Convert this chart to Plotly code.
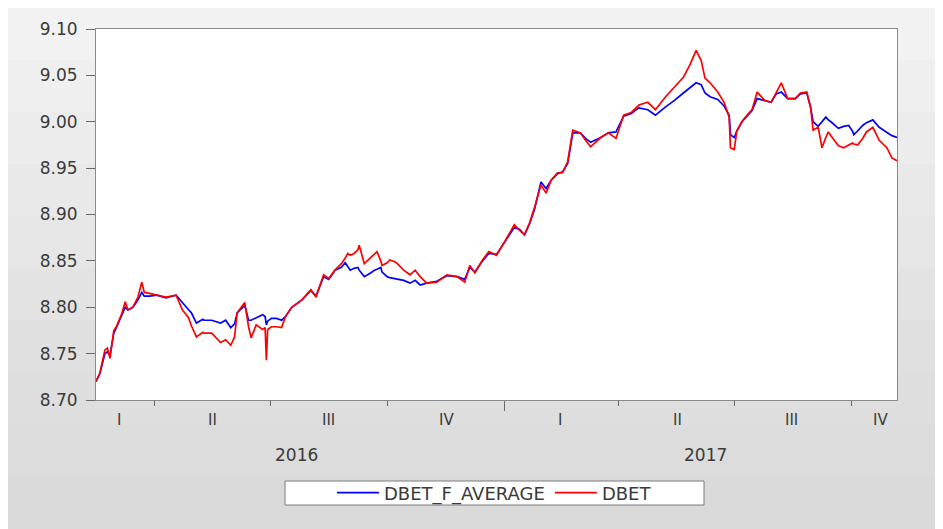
import plotly.graph_objects as go

# ---------------- data ----------------
dates = [
    "2016-02-15", "2016-02-18", "2016-02-22", "2016-02-24", "2016-02-26", "2016-02-29",
    "2016-03-02", "2016-03-06", "2016-03-09", "2016-03-11", "2016-03-15", "2016-03-19",
    "2016-03-22", "2016-03-24", "2016-03-28", "2016-04-03", "2016-04-10", "2016-04-18",
    "2016-04-23", "2016-04-26", "2016-04-28", "2016-04-30", "2016-05-04", "2016-05-09",
    "2016-05-10", "2016-05-16", "2016-05-23", "2016-05-27", "2016-05-31", "2016-06-03",
    "2016-06-05", "2016-06-11", "2016-06-14", "2016-06-16", "2016-06-20", "2016-06-25",
    "2016-06-27", "2016-06-28", "2016-06-29", "2016-07-02", "2016-07-06", "2016-07-10",
    "2016-07-13", "2016-07-18", "2016-07-26", "2016-08-02", "2016-08-06", "2016-08-12",
    "2016-08-16", "2016-08-21", "2016-08-26", "2016-08-29", "2016-08-31", "2016-09-02",
    "2016-09-05", "2016-09-08", "2016-09-09", "2016-09-13", "2016-09-18", "2016-09-21",
    "2016-09-23", "2016-09-26", "2016-09-27", "2016-10-01", "2016-10-03", "2016-10-07",
    "2016-10-09", "2016-10-14", "2016-10-19", "2016-10-23", "2016-10-27", "2016-11-01",
    "2016-11-09", "2016-11-17", "2016-11-25", "2016-12-01", "2016-12-05", "2016-12-09",
    "2016-12-15", "2016-12-20", "2016-12-26", "2017-01-02", "2017-01-09", "2017-01-13",
    "2017-01-17", "2017-01-21", "2017-01-25", "2017-01-30", "2017-02-03", "2017-02-07",
    "2017-02-12", "2017-02-16", "2017-02-20", "2017-02-24", "2017-03-02", "2017-03-06",
    "2017-03-10", "2017-03-18", "2017-03-24", "2017-03-30", "2017-04-05", "2017-04-11",
    "2017-04-17", "2017-04-24", "2017-04-30", "2017-05-08", "2017-05-15", "2017-05-22",
    "2017-05-27", "2017-06-01", "2017-06-05", "2017-06-08", "2017-06-12", "2017-06-18",
    "2017-06-23", "2017-06-27", "2017-06-28", "2017-07-01", "2017-07-03", "2017-07-07",
    "2017-07-11", "2017-07-15", "2017-07-19", "2017-07-25", "2017-07-30", "2017-08-03",
    "2017-08-07", "2017-08-12", "2017-08-18", "2017-08-22", "2017-08-27", "2017-08-30",
    "2017-09-01", "2017-09-05", "2017-09-08", "2017-09-11", "2017-09-13", "2017-09-15",
    "2017-09-20", "2017-09-21", "2017-09-25", "2017-09-29", "2017-10-02", "2017-10-03",
    "2017-10-06", "2017-10-10", "2017-10-13", "2017-10-18", "2017-10-23", "2017-10-29",
    "2017-11-02", "2017-11-06",
]

dbet = [
    8.720, 8.729, 8.754, 8.756, 8.745, 8.775,
    8.779, 8.792, 8.806, 8.797, 8.800, 8.811,
    8.827, 8.816, 8.815, 8.813, 8.811, 8.813,
    8.797, 8.792, 8.788, 8.780, 8.768, 8.773,
    8.772, 8.772, 8.762, 8.765, 8.759, 8.768,
    8.794, 8.805, 8.779, 8.767, 8.781, 8.776,
    8.778, 8.743, 8.776, 8.779, 8.779, 8.778,
    8.790, 8.800, 8.808, 8.819, 8.811, 8.835,
    8.831, 8.840, 8.847, 8.853, 8.858, 8.856,
    8.858, 8.862, 8.867, 8.847, 8.853, 8.857,
    8.860, 8.850, 8.845, 8.848, 8.851, 8.849,
    8.847, 8.840, 8.835, 8.840, 8.833, 8.826,
    8.827, 8.835, 8.833, 8.827, 8.845, 8.837,
    8.851, 8.860, 8.856, 8.872, 8.889, 8.883,
    8.878, 8.891, 8.908, 8.932, 8.923, 8.937,
    8.945, 8.945, 8.957, 8.991, 8.988, 8.980,
    8.973, 8.983, 8.988, 8.982, 9.007, 9.010,
    9.018, 9.021, 9.013, 9.027, 9.037, 9.048,
    9.061, 9.077, 9.066, 9.047, 9.042, 9.032,
    9.021, 9.005, 8.972, 8.970, 8.990, 9.000,
    9.007, 9.013, 9.032, 9.023, 9.021, 9.031,
    9.042, 9.025, 9.025, 9.031, 9.032, 9.016,
    8.991, 8.994, 8.972, 8.983, 8.989, 8.985,
    8.975, 8.974, 8.972, 8.975, 8.977, 8.976,
    8.975, 8.982, 8.989, 8.994, 8.980, 8.972,
    8.961, 8.958,
]

dbet_f_average = [
    8.720, 8.728, 8.750, 8.752, 8.748, 8.772,
    8.778, 8.790, 8.800, 8.797, 8.800, 8.808,
    8.816, 8.812, 8.812, 8.813, 8.810, 8.813,
    8.805, 8.799, 8.797, 8.794, 8.783, 8.787,
    8.786, 8.786, 8.783, 8.786, 8.778, 8.782,
    8.794, 8.802, 8.786, 8.786, 8.789, 8.792,
    8.790, 8.781, 8.785, 8.788, 8.788, 8.786,
    8.790, 8.800, 8.808, 8.818, 8.812, 8.833,
    8.830, 8.840, 8.843, 8.848, 8.844, 8.840,
    8.842, 8.843, 8.840, 8.833, 8.837, 8.840,
    8.841, 8.843, 8.838, 8.833, 8.832, 8.831,
    8.830, 8.829, 8.826, 8.829, 8.824, 8.826,
    8.828, 8.834, 8.833, 8.830, 8.843, 8.838,
    8.850, 8.858, 8.857, 8.871, 8.886, 8.884,
    8.878, 8.890, 8.906, 8.935, 8.928, 8.937,
    8.944, 8.946, 8.955, 8.988, 8.988, 8.982,
    8.978, 8.983, 8.988, 8.989, 9.006, 9.009,
    9.015, 9.013, 9.007, 9.016, 9.023, 9.031,
    9.037, 9.042, 9.040, 9.031, 9.027, 9.024,
    9.017, 9.007, 8.986, 8.983, 8.990, 9.000,
    9.006, 9.012, 9.025, 9.023, 9.021, 9.030,
    9.032, 9.025, 9.025, 9.030, 9.031, 9.016,
    9.000, 8.995, 9.000, 9.005, 9.002, 9.000,
    8.994, 8.993, 8.995, 8.996, 8.990, 8.986,
    8.990, 8.996, 8.999, 9.002, 8.994, 8.989,
    8.985, 8.983,
]

y_ticks = [8.70, 8.75, 8.80, 8.85, 8.90, 8.95, 9.00, 9.05, 9.10]
quarter_bounds = ["2016-04-01", "2016-07-01", "2016-10-01",
                  "2017-04-01", "2017-07-01", "2017-10-01"]
year_bounds = ["2017-01-01"]
quarter_labels = ["I", "II", "III", "IV", "I", "II", "III", "IV"]
quarter_label_dates = ["2016-03-04", "2016-05-17", "2016-08-16", "2016-11-17",
                       "2017-02-14", "2017-05-17", "2017-08-15", "2017-10-24"]
year_labels = ["2016", "2017"]
year_label_dates = ["2016-07-22", "2017-06-08"]

# ---------------- layout geometry (page pixels; page body has an 8px margin) ----------------
OFF = 8
PAGE_W, PAGE_H = 943, 529
W, H = PAGE_W - OFF, PAGE_H - OFF
PLOT_L, PLOT_R, PLOT_T, PLOT_B = 96, 897, 29, 400          # plot frame in page pixels
ML, MT = PLOT_L - OFF, PLOT_T - OFF
MR, MB = W - (PLOT_R - OFF), H - (PLOT_B - OFF)
PW, PH = PLOT_R - PLOT_L, PLOT_B - PLOT_T
LEG_L, LEG_R, LEG_T, LEG_B = 285, 704, 481, 505             # legend frame in page pixels


def px_x(px):
    return (px - PLOT_L) / PW


def px_y(py):
    return (PLOT_B - py) / PH


FONT = "DejaVu Sans"
TXT = "#3a3a3a"

fig = go.Figure()
fig.add_trace(go.Scatter(x=dates, y=dbet_f_average, mode="lines", name="DBET_F_AVERAGE",
                         line=dict(color="#0000ff", width=1.7)))
fig.add_trace(go.Scatter(x=dates, y=dbet, mode="lines", name="DBET",
                         line=dict(color="#ff0000", width=1.7)))

# background panel with a soft vertical gradient
shapes = []
bands = ["#f2f2f2", "#efefef", "#ececec", "#e9e9e9", "#e6e6e6",
         "#e3e3e3", "#e0e0e0", "#dedede", "#dcdcdc", "#dadada"]
top_px, bot_px = OFF, PAGE_H
step = (bot_px - top_px) / len(bands)
for i, c in enumerate(bands):
    shapes.append(dict(type="rect", xref="paper", yref="paper", layer="below",
                       x0=px_x(OFF), x1=px_x(936),
                       y0=px_y(top_px + (i + 1) * step + 1), y1=px_y(top_px + i * step),
                       fillcolor=c, line=dict(width=0)))
shapes.append(dict(type="rect", xref="paper", yref="paper", layer="below",
                   x0=0, x1=1, y0=0, y1=1, fillcolor="white", line=dict(width=0)))
# legend frame
shapes.append(dict(type="rect", xref="paper", yref="paper", layer="below",
                   x0=px_x(LEG_L), x1=px_x(LEG_R), y0=px_y(LEG_B), y1=px_y(LEG_T),
                   fillcolor="white", line=dict(color="#7a7a7a", width=1)))

annotations = []
for lab, d in zip(quarter_labels, quarter_label_dates):
    annotations.append(dict(x=d, y=px_y(420), xref="x", yref="paper", text=lab,
                            showarrow=False, yanchor="middle", xanchor="center",
                            font=dict(family=FONT, size=15, color=TXT)))
for lab, d in zip(year_labels, year_label_dates):
    annotations.append(dict(x=d, y=px_y(455), xref="x", yref="paper", text=lab,
                            showarrow=False, yanchor="middle", xanchor="center",
                            font=dict(family=FONT, size=17, color=TXT)))

fig.update_layout(
    width=W, height=H,
    margin=dict(l=ML, r=MR, t=MT, b=MB, pad=0),
    paper_bgcolor="white",
    plot_bgcolor="white",
    shapes=shapes,
    annotations=annotations,
    showlegend=True,
    legend=dict(orientation="h", x=px_x((LEG_L + LEG_R) / 2), xanchor="center",
                y=px_y((LEG_T + LEG_B) / 2), yanchor="middle",
                bgcolor="rgba(0,0,0,0)", borderwidth=0,
                font=dict(family=FONT, size=18, color=TXT),
                itemwidth=42, traceorder="normal"),
    xaxis=dict(type="date", range=[dates[0], dates[-1]], showgrid=False, zeroline=False,
               tickmode="array", tickvals=year_bounds, ticktext=[""] * len(year_bounds),
               showticklabels=False, ticks="outside", ticklen=10, tickcolor="#6a6a6a",
               showline=True, mirror=True, linecolor="#8a8a8a", linewidth=1,
               minor=dict(tickmode="array", tickvals=quarter_bounds, ticks="outside",
                          ticklen=5, tickcolor="#6a6a6a", showgrid=False)),
    yaxis=dict(range=[y_ticks[0], y_ticks[-1]], showgrid=False, zeroline=False,
               tickmode="array", tickvals=y_ticks, ticktext=[f"{v:.2f}" for v in y_ticks],
               ticks="outside", ticklen=9, tickcolor="#6a6a6a", ticklabelstandoff=5,
               tickfont=dict(family=FONT, size=17, color=TXT),
               showline=True, mirror=True, linecolor="#8a8a8a", linewidth=1),
)

fig.write_html("out.html")
